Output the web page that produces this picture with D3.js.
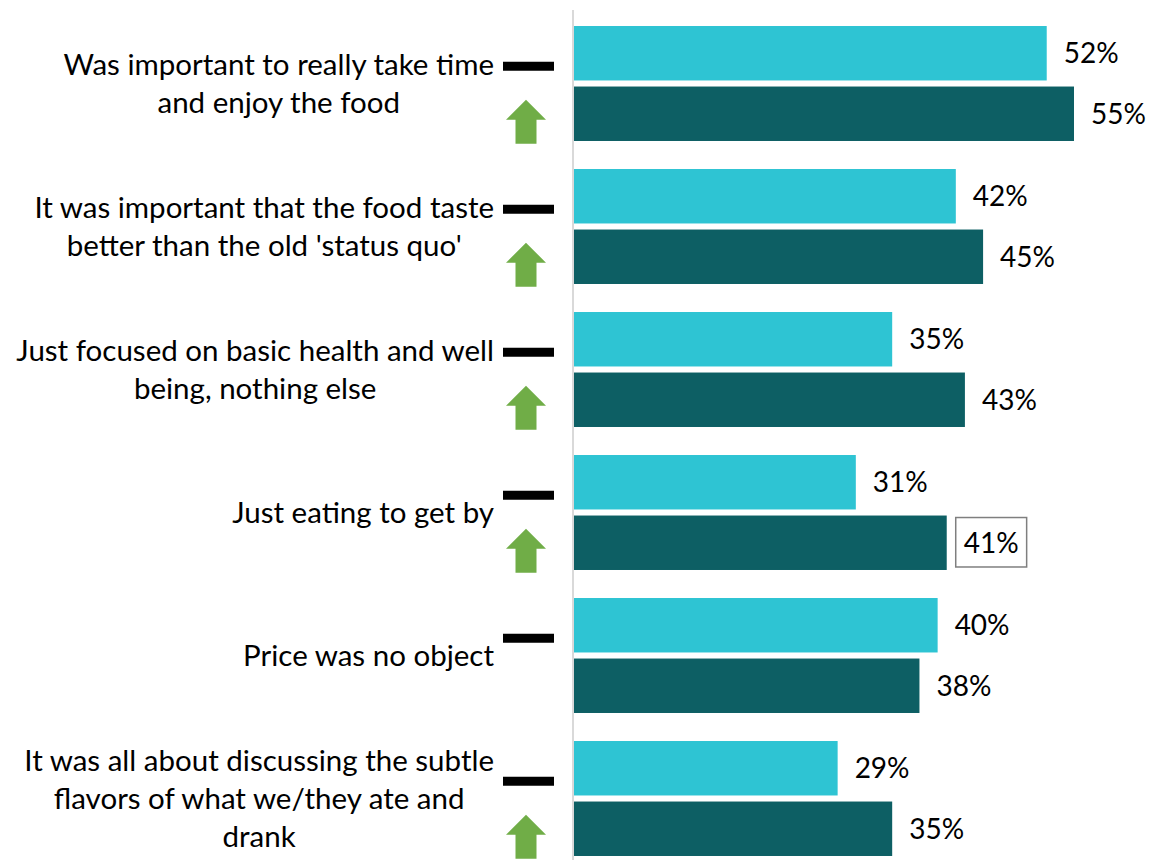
<!DOCTYPE html>
<html>
<head>
<meta charset="utf-8">
<script src="https://cdn.jsdelivr.net/npm/d3@7"></script>
<style>
  html, body { margin: 0; padding: 0; background: #fff; }
  svg { display: block; }
  text { font-family: Lato, "Open Sans", sans-serif; fill: #000; }
</style>
</head>
<body>
<svg id="chart" width="1151" height="860"></svg>
<script>
// Statements (multi-line labels) and the two survey waves
const categories = [
  ["Was important to really take time", "and enjoy the food"],
  ["It was important that the food taste", "better than the old 'status quo'"],
  ["Just focused on basic health and well", "being, nothing else"],
  ["Just eating to get by"],
  ["Price was no object"],
  ["It was all about discussing the subtle", "flavors of what we/they ate and", "drank"]
];
const seriesNames = ["Earlier", "Latest"];
const earlierValues = [52, 42, 35, 31, 40, 29];
const latestValues  = [55, 45, 43, 41, 38, 35];
// Change indicator shown beside each statement
const changeMarks = ["up", "up", "up", "up", "none", "up"];
// Value that gets a framed label
const framedLabel = { row: 3, series: 1 };

const colors = ["#2EC4D3", "#0D5F64"];
const svg = d3.select("#chart");

const rows = categories.map((lines, i) => ({
  i, lines, key: "c" + i,
  values: [earlierValues[i], latestValues[i]],
  change: changeMarks[i]
}));

const x = d3.scaleLinear().domain([0, 55]).range([574, 1074]);
const y0 = d3.scaleBand().domain(rows.map(d => d.key))
  .range([12, 870]).paddingInner(0.196).paddingOuter(0.098);
const y1 = d3.scaleBand().domain(seriesNames)
  .range([0, y0.bandwidth()]).paddingInner(0.1);

// Bars
const g = svg.selectAll("g.row").data(rows).join("g")
  .attr("class", "row")
  .attr("transform", d => `translate(0,${y0(d.key)})`);

g.selectAll("rect.bar")
  .data(d => d.values.map((v, s) => ({ v, s, row: d.i })))
  .join("rect")
  .attr("class", "bar")
  .attr("x", x(0))
  .attr("y", d => y1(seriesNames[d.s]))
  .attr("width", d => x(d.v) - x(0))
  .attr("height", y1.bandwidth())
  .attr("fill", d => colors[d.s]);

// Value labels
g.selectAll("text.val")
  .data(d => d.values.map((v, s) => ({ v, s, row: d.i })))
  .join("text")
  .attr("class", "val")
  .attr("x", d => x(d.v) + 17)
  .attr("y", d => y1(seriesNames[d.s]) + y1.bandwidth() / 2)
  .attr("dy", "0.36em")
  .attr("font-size", 28)
  .text(d => d.v + "%")
  .each(function (d) {
    if (d.row === framedLabel.row && d.s === framedLabel.series) {
      const b = this.getBBox();
      d3.select(this.parentNode).insert("rect", "text.val")
        .attr("x", b.x - 8)
        .attr("y", y1(seriesNames[d.s]) + 2)
        .attr("width", b.width + 16)
        .attr("height", y1.bandwidth() - 5)
        .attr("fill", "#fff")
        .attr("stroke", "#7F7F7F")
        .attr("stroke-width", 1.5);
    }
  });

// Vertical baseline
svg.append("line")
  .attr("x1", 573).attr("x2", 573)
  .attr("y1", 10).attr("y2", 860)
  .attr("stroke", "#D9D9D9").attr("stroke-width", 2);

// Statement labels: block right-aligned, lines centred inside the block
const lineH = 38;
const labelRight = 494;
rows.forEach(d => {
  const cy = y0(d.key) + y0.bandwidth() / 2;
  const t = svg.append("text").attr("font-size", 29.5).attr("text-anchor", "middle");
  const spans = d.lines.map((ln, k) => t.append("tspan")
    .attr("y", cy + (k - (d.lines.length - 1) / 2) * lineH)
    .attr("dy", "0.36em")
    .text(ln));
  const maxW = d3.max(spans, s => s.node().getComputedTextLength());
  spans.forEach(s => s.attr("x", labelRight - maxW / 2));
});

// Change markers: dash beside the earlier bar, arrow beside the latest bar
const mark = svg.append("g");
rows.forEach(d => {
  const top = y0(d.key);
  const dashY = top + y1(seriesNames[0]) + y1.bandwidth() / 2 + 13;
  mark.append("rect")
    .attr("x", 503).attr("y", dashY - 4.5)
    .attr("width", 51).attr("height", 9)
    .attr("fill", "#000");
  if (d.change === "up") {
    const cy = top + y1(seriesNames[1]) + y1.bandwidth() / 2 + 8;
    const cx = 526, h = 44, headH = 20, headW = 40, shaftW = 21;
    const t0 = cy - h / 2;
    const path = [
      [cx, t0], [cx + headW / 2, t0 + headH], [cx + shaftW / 2, t0 + headH],
      [cx + shaftW / 2, t0 + h], [cx - shaftW / 2, t0 + h],
      [cx - shaftW / 2, t0 + headH], [cx - headW / 2, t0 + headH]
    ];
    mark.append("path")
      .attr("d", d3.line()(path) + "Z")
      .attr("fill", "#70AD47");
  }
});
</script>
</body>
</html>
